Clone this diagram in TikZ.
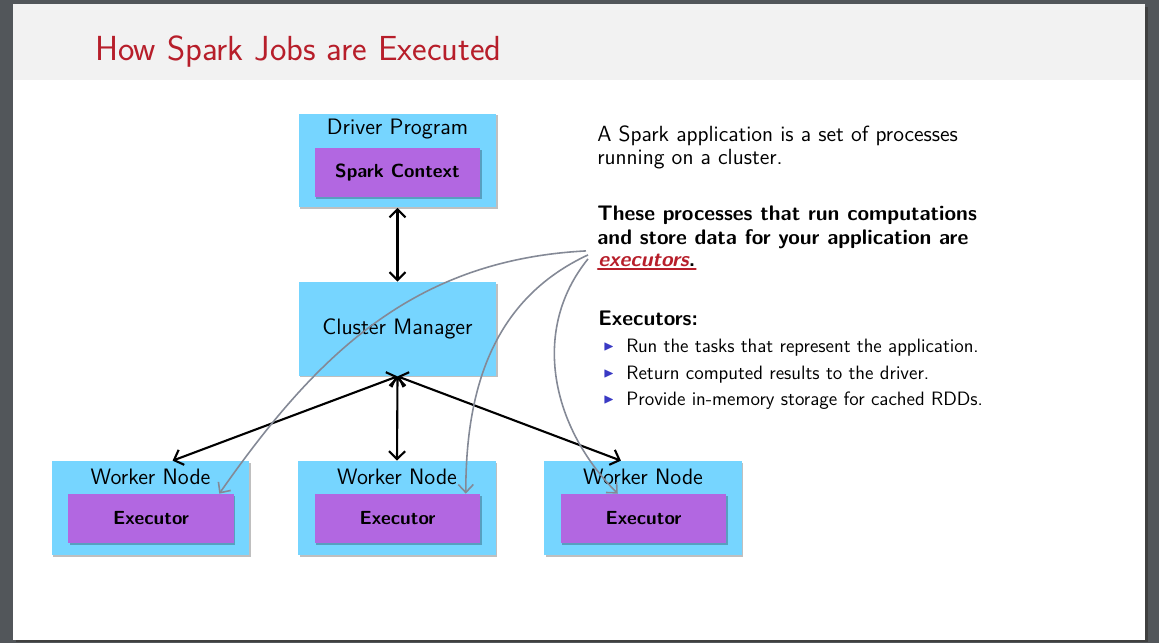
\documentclass[tikz,border=0pt]{standalone}
\usepackage{fontspec}
\usepackage{amssymb}
\usetikzlibrary{arrows.meta,positioning,calc,shadows}
\renewcommand{\familydefault}{\sfdefault}

\definecolor{framegray}{RGB}{82,86,90}
\definecolor{headgray}{RGB}{242,242,242}
\definecolor{titlered}{RGB}{183,30,42}
\definecolor{hostblue}{RGB}{118,213,255}
\definecolor{execpurple}{RGB}{178,103,225}
\definecolor{refgray}{RGB}{132,137,150}
\definecolor{bulletblue}{RGB}{58,58,196}

\newcommand{\itemmark}{\makebox[0.46cm][l]{\raisebox{1.2pt}{\color{bulletblue}\footnotesize$\blacktriangleright$}}}

\begin{document}
\begin{tikzpicture}[x=0.02cm, y=0.02cm, font=\sffamily,
  hostbox/.style={fill=hostblue, minimum width=3.96cm, minimum height=1.88cm, inner sep=0pt,
    drop shadow={shadow xshift=0.03cm, shadow yshift=-0.03cm, opacity=0.25, fill=black},
    font=\sffamily\fontsize{12.7}{14}\selectfont},
  execbox/.style={fill=execpurple, minimum width=3.32cm, minimum height=0.98cm, inner sep=0pt,
    drop shadow={shadow xshift=0.03cm, shadow yshift=-0.03cm, opacity=0.25, fill=black},
    font=\sffamily\bfseries\fontsize{10.8}{12}\selectfont},
  hostlbl/.style={anchor=center, yshift=-0.32cm, inner sep=0pt, font=\sffamily\fontsize{12.7}{14}\selectfont},
  txt/.style={anchor=north west, align=left, inner sep=0pt, font=\sffamily\fontsize{12.5}{13.3}\selectfont},
  bold/.style={font=\sffamily\bfseries\fontsize{12}{13.3}\selectfont},
  link/.style={{Straight Barb[length=1.6mm,width=3.2mm]}-{Straight Barb[length=1.6mm,width=3.2mm]}, line width=1.2pt},
  ref/.style={-{Straight Barb[length=1.6mm,width=3mm]}, line width=0.9pt, refgray}]
% page
\fill[framegray] (0,0) rectangle (1159,-643);
\useasboundingbox (0,0) rectangle (1159,-643);
\fill[black!75] (16,-7) rectangle (1148,-642);
\fill[white] (13,-4) rectangle (1145,-640);
\fill[headgray] (13,-4) rectangle (1145,-80);
\node[anchor=base west, inner sep=0pt, text=titlered, font=\sffamily\fontsize{19.8}{22}\selectfont] (title) at (95,-60) {How Spark Jobs are Executed};

% boxes
\node[hostbox, label={[hostlbl]north:Driver Program}] (drv) at (397.5,-160.5) {};
\node[execbox] (sc) at (397.5,-172.5) {Spark Context};
\node[hostbox] (cm) at (397.5,-329) {Cluster Manager};
\foreach \i/\x in {1/150.5,2/397,3/643}{
  \node[hostbox, label={[hostlbl]north:Worker Node}] (wk\i) at (\x,-508) {};
  \node[execbox] (ex\i) at (\x+0.5,-518.5) {Executor};
}

% text
\node[txt] (intro) at (597,-125) {A Spark application is a set of processes\\running on a cluster.};
\node[txt, bold] (def) at (597,-206) {These processes that run computations\\and store data for your application are};
\node[anchor=base west, inner sep=0pt, bold] (exe) at (598,-266) {\textcolor{titlered}{\itshape executors}.};
\draw[titlered, line width=1.4pt, line cap=round] ($(exe.base west)+(0,-3)$) -- ($(exe.base east)+(0,-3)$);
\node[anchor=base west, inner sep=0pt, bold] (exh) at (598,-325) {Executors:};
\node[txt, font=\sffamily\fontsize{11}{15.1}\selectfont] (lst) at (603,-339) {\itemmark Run the tasks that represent the application.\\
  \itemmark Return computed results to the driver.\\
  \itemmark Provide in-memory storage for cached RDDs.};

% links
\draw[link] (drv.south) -- (cm.north);
\draw[link] (cm.south) -- (wk1.65);
\draw[link] (cm.south) -- (wk2.north);
\draw[link] (cm.south) -- (wk3.115);

% executors pointers
\draw[ref] ($(exe.west)+(-12,9)$) to[out=183, in=55] (ex1.20);
\draw[ref] ($(exe.west)+(-10,5)$) to[out=205, in=90] (ex2.20);
\draw[ref] ($(exe.west)+(-10,1)$) to[out=231, in=135] (ex3.136);
\end{tikzpicture}
\end{document}
